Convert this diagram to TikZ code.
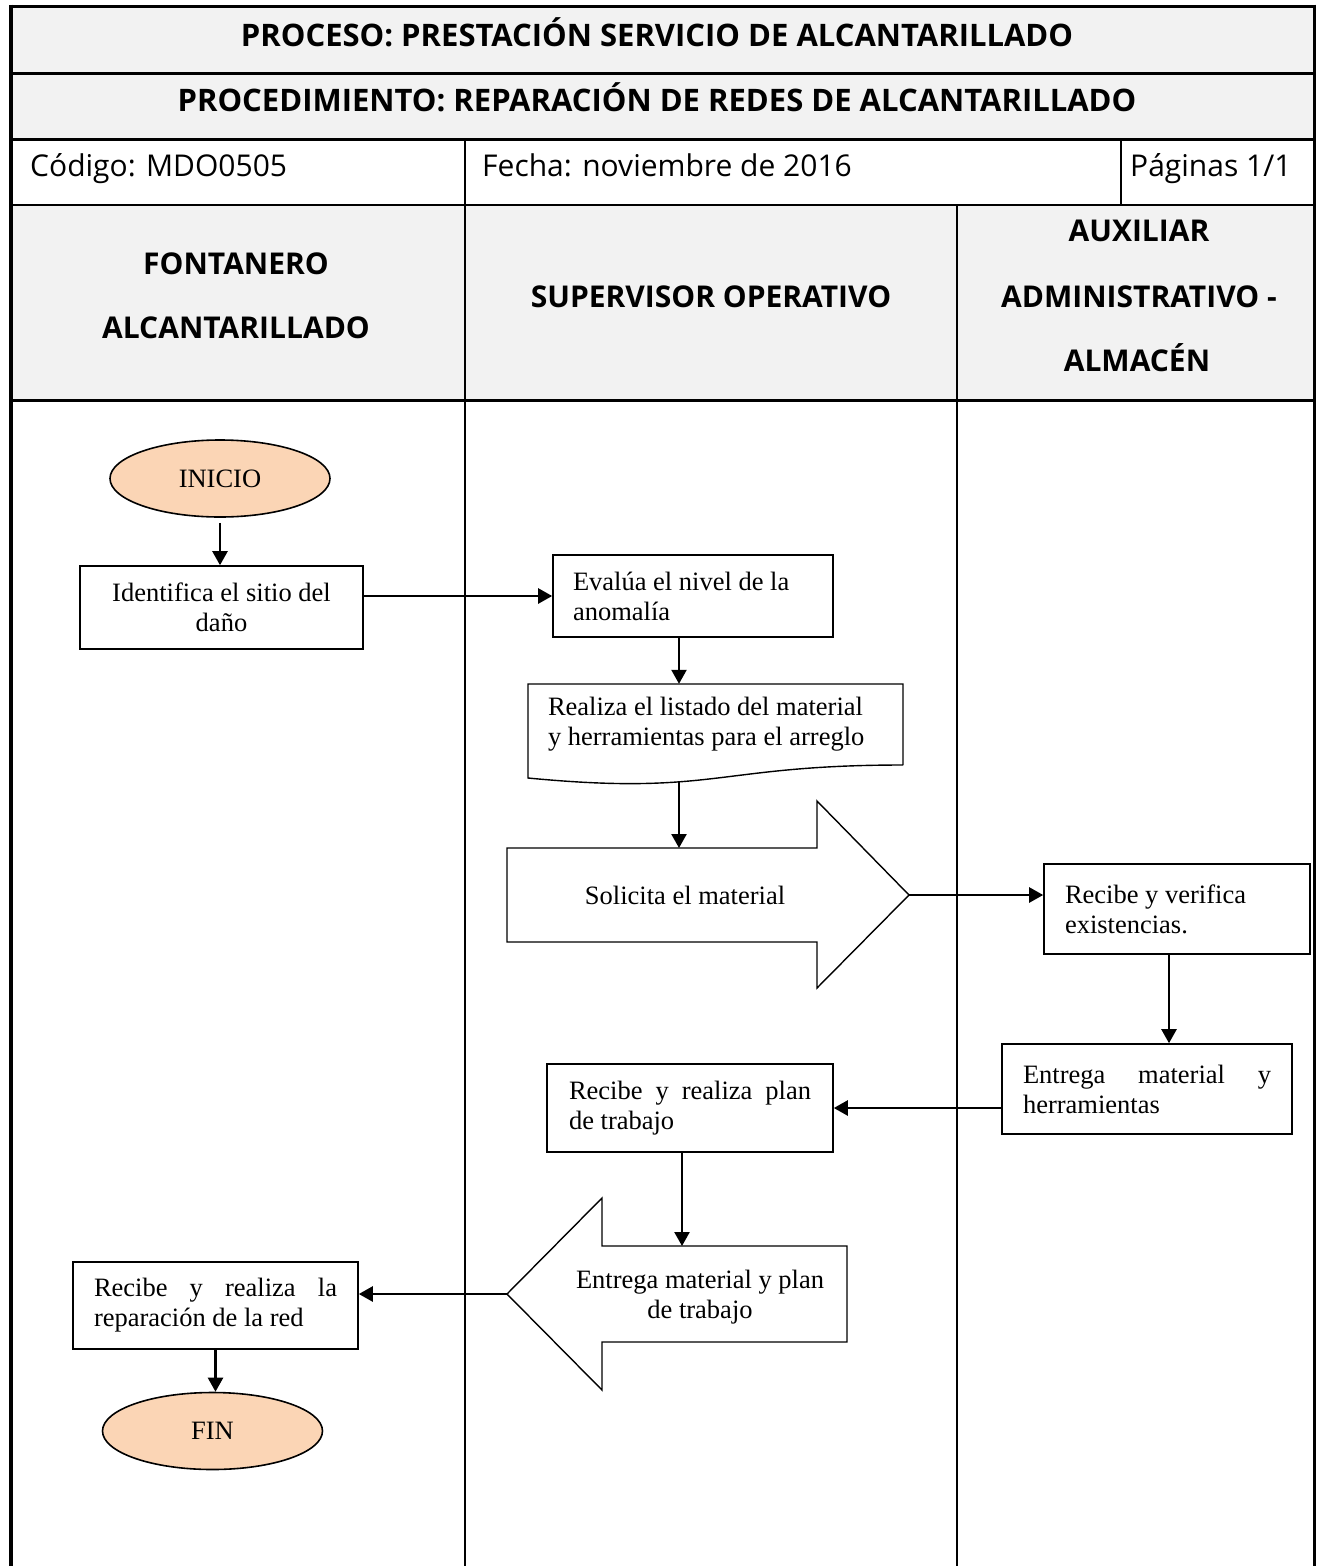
\documentclass[tikz,border=0pt]{standalone}
\usepackage{fontspec}
\setmainfont{Liberation Serif}
\newfontfamily\hdrfont{Open Sans}
\usetikzlibrary{arrows.meta,shapes.geometric}
\definecolor{hdrgray}{HTML}{F2F2F2}
\definecolor{peach}{HTML}{FBD5B5}
\begin{document}
\begin{tikzpicture}[x=1pt,y=-1pt,
  thinrule/.style={line width=1.6pt},
  thickrule/.style={line width=3pt},
  hdrbold/.style={font=\hdrfont\bfseries\fontsize{31}{36}\selectfont, anchor=base, inner sep=0pt},
  lanehdr/.style={font=\hdrfont\bfseries\fontsize{30}{34}\selectfont, anchor=base, inner sep=0pt},
  hdrplain/.style={font=\hdrfont\fontsize{30}{34}\selectfont, anchor=base west, inner sep=0pt},
  flowtext/.style={font=\fontsize{26.5}{30}\selectfont},
  stepbox/.style={flowtext, draw, line width=1.6pt, rectangle, inner sep=0pt, align=flush left},
  termnl/.style={flowtext, draw, line width=1.6pt, ellipse, fill=peach, inner sep=0pt,
                 minimum width=220pt, minimum height=77pt},
  conn/.style={line width=2.4pt, -{Triangle[length=14pt,width=15pt]}},
  blockarrow/.style={draw, line width=1.4pt, fill=white, line join=miter}
]
\useasboundingbox (0,0) rectangle (1318,1566);

% header table
\fill[hdrgray] (11,6) rectangle (1314,139);
\fill[hdrgray] (11,205) rectangle (1314,400);
\draw[thickrule] (11,6) -- (1314,6);
\draw[thickrule] (11,73) -- (1314,73);
\draw[thickrule] (11,139) -- (1314,139);
\draw[thinrule] (11,205) -- (1314,205);
\draw[thickrule] (11,400) -- (1314,400);
\draw[thinrule] (465,139) -- (465,1566);
\draw[thinrule] (1121,139) -- (1121,205);
\draw[thinrule] (957,205) -- (957,1566);
\draw[line width=3.5pt] (11,4.5) -- (11,1566);
\draw[line width=3pt] (1314,4.5) -- (1314,1566);

\node[hdrbold] (proc) at (657,46) {PROCESO: PRESTACIÓN SERVICIO DE ALCANTARILLADO};
\node[hdrbold] (procd) at (657,111) {PROCEDIMIENTO: REPARACIÓN DE REDES DE ALCANTARILLADO};
\node[hdrplain] (cod) at (30,176) {Código: MDO0505};
\node[hdrplain] (fecha) at (482,176) {Fecha: noviembre de 2016};
\node[hdrplain] (pag) at (1130,176) {Páginas 1/1};

% lane titles
\node[lanehdr] (laneAa) at (236,274) {FONTANERO};
\node[lanehdr] (laneAb) at (236,338) {ALCANTARILLADO};
\node[lanehdr] (laneB) at (711,307) {SUPERVISOR OPERATIVO};
\node[lanehdr] (laneCa) at (1139,241) {AUXILIAR};
\node[lanehdr] (laneCb) at (1139,307) {ADMINISTRATIVO -};
\node[lanehdr] (laneCc) at (1137,371) {ALMACÉN};

% flow steps
\node[termnl] (inicio) at (220,478.5) {INICIO};
\node[stepbox, align=flush center, minimum width=283pt, minimum height=83pt, text width=240pt]
  (ident) at (221.5,607.5) {Identifica el sitio del\\daño};
\node[stepbox, minimum width=280pt, minimum height=82pt, text width=240pt]
  (eval) at (693,596) {Evalúa el nivel de la\\anomalía};

% document shape
\node[flowtext, inner sep=0pt, minimum width=375pt, minimum height=81pt, text width=335pt, align=flush left]
  (lista) at (715.5,724.5) {Realiza el listado del material\\y herramientas para el arreglo};
\draw[line width=1.4pt] (903,765) -- (903,684) -- (528,684) -- (528,778)
  .. controls (715.5,796) and (715.5,765) .. (903,765);
\coordinate (listaBot) at (679,781);

% block arrow to the right
\draw[blockarrow] (507,848) -- (817,848) -- (817,801) -- (909,895) -- (817,988)
  -- (817,942) -- (507,942) -- cycle;
\coordinate (solTop) at (679,848);
\coordinate (solTip) at (909,895);
\node[flowtext] (sol) at (685,895) {Solicita el material};

\node[stepbox, minimum width=266pt, minimum height=90pt, text width=224pt]
  (recver) at (1177,909) {Recibe y verifica\\existencias.};
\node[stepbox, minimum width=290pt, minimum height=90pt, text width=248pt]
  (entmat) at (1147,1089) {\makebox[248pt][s]{Entrega material y}\\herramientas};
\node[stepbox, minimum width=286pt, minimum height=88pt, text width=242pt]
  (plan) at (690,1108) {\makebox[242pt][s]{Recibe y realiza plan}\\de trabajo};

% block arrow to the left
\draw[blockarrow] (847,1246) -- (602,1246) -- (602,1198) -- (507,1294) -- (602,1390)
  -- (602,1342) -- (847,1342) -- cycle;
\coordinate (entTop) at (682,1246);
\coordinate (entTip) at (507,1294);
\node[flowtext, align=flush center] (entpl) at (700,1297) {Entrega material y plan\\de trabajo};

\node[stepbox, minimum width=285pt, minimum height=87pt, text width=243pt]
  (rep) at (215.5,1305.5) {\makebox[243pt][s]{Recibe y realiza la}\\reparación de la red};
\node[termnl] (fin) at (212.5,1431) {FIN};

% connectors
\draw[conn, shorten <=5pt] (inicio.south) -- (inicio.south |- ident.north);
\draw[conn] (ident.east |- eval.west) -- (eval.west);
\draw[conn] (eval.south -| solTop) -- (solTop |- lista.north);
\draw[conn] (listaBot) -- (solTop);
\draw[conn] (solTip) -- (solTip -| recver.west);
\draw[conn] ([xshift=-8pt]recver.south) -- ([xshift=-8pt]recver.south |- entmat.north);
\draw[conn] (entmat.west |- plan.east) -- (plan.east);
\draw[conn] (plan.south -| entTop) -- (entTop);
\draw[conn] (entTip) -- (entTip -| rep.east);
\draw[conn] (rep.south) -- (rep.south |- fin.north);
\end{tikzpicture}
\end{document}
